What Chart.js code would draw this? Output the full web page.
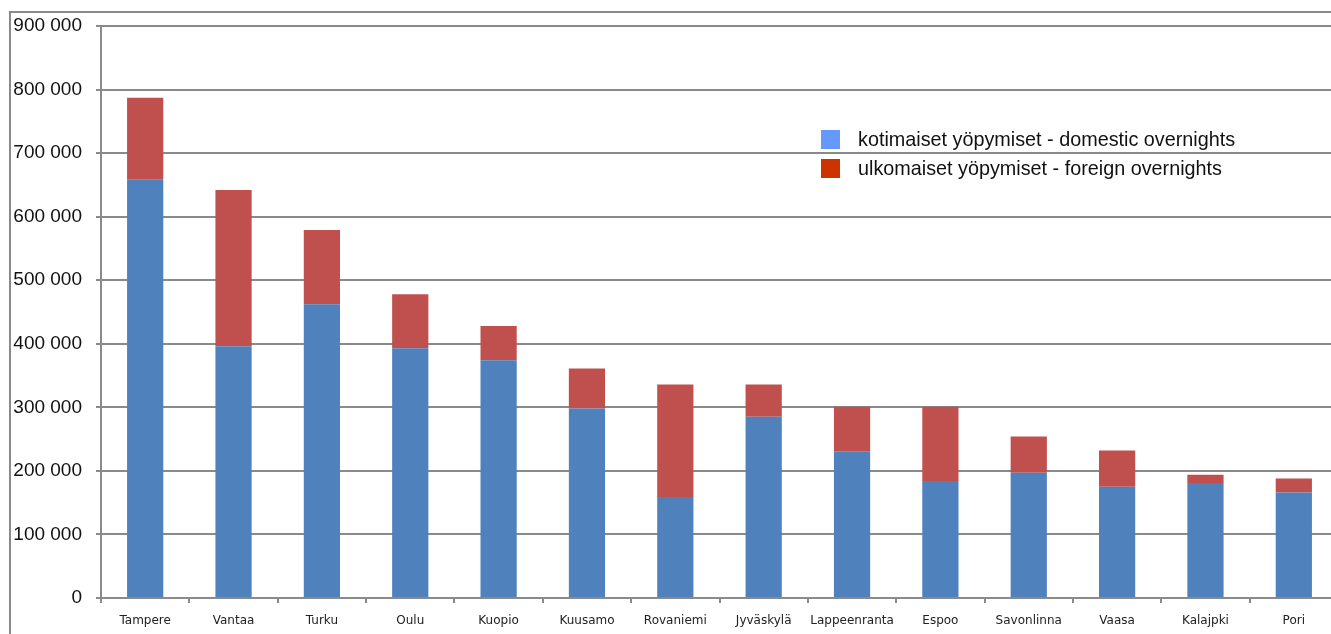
<!DOCTYPE html>
<html>
<head>
<meta charset="utf-8">
<script src="https://cdn.jsdelivr.net/npm/chart.js@4/dist/chart.umd.min.js"></script>
<style>
    html, body { margin: 0; padding: 0; background: #fff; overflow: hidden; }
    #wrap { position: relative; width: 1340px; height: 634px; }
</style>
</head>
<body>
<div id="wrap"><canvas id="overnightChart"></canvas></div>
<script>
const cities = ['Tampere', 'Vantaa', 'Turku', 'Oulu', 'Kuopio', 'Kuusamo', 'Rovaniemi', 'Jyväskylä',
    'Lappeenranta', 'Espoo', 'Savonlinna', 'Vaasa', 'Kalajpki', 'Pori'];
const domestic = [658000, 396000, 462000, 393000, 374000, 298000, 159000, 285000, 231000, 184000, 197000, 175000, 181000, 166000];
const foreign = [129000, 246000, 117000, 85000, 54000, 63000, 177000, 51000, 70000, 117000, 57000, 57000, 13000, 22000];
const seriesNames = ['kotimaiset yöpymiset - domestic overnights', 'ulkomaiset yöpymiset - foreign overnights'];
const barColors = ['#4f81bd', '#c0504d'];
const legendColors = ['#6699ff', '#cc3300'];
const yTicks = [0, 100000, 200000, 300000, 400000, 500000, 600000, 700000, 800000, 900000];

function formatNumber(v) {
    return String(v).replace(/\B(?=(\d{3})+(?!\d))/g, ' ');
}

// outer frame + legend inside the plot, like the original sheet
const framePlugin = {
    id: 'frame',
    afterDraw(chart) {
        const ctx = chart.ctx;
        ctx.save();
        ctx.strokeStyle = '#8a8a8a';
        ctx.lineWidth = 2;
        ctx.beginPath();
        ctx.moveTo(10, 634);
        ctx.lineTo(10, 12);
        ctx.lineTo(chart.width, 12);
        ctx.stroke();

        ctx.font = '19.8px "Liberation Sans", Arial, sans-serif';
        ctx.textBaseline = 'middle';
        seriesNames.forEach((name, i) => {
            const y = 130 + i * 29;
            ctx.fillStyle = legendColors[i];
            ctx.fillRect(821, y, 19, 19);
            ctx.fillStyle = '#111';
            ctx.fillText(name, 858, y + 11);
        });
        ctx.restore();
    }
};

const ctx = document.getElementById('overnightChart').getContext('2d');
new Chart(ctx, {
    type: 'bar',
    data: {
        labels: cities,
        datasets: [
            { label: seriesNames[0], data: domestic, backgroundColor: barColors[0], borderWidth: 0 },
            { label: seriesNames[1], data: foreign, backgroundColor: barColors[1], borderWidth: 0 }
        ]
    },
    options: {
        responsive: true,
        maintainAspectRatio: false,
        animation: false,
        devicePixelRatio: 1,
        categoryPercentage: 1,
        barPercentage: 0.41,
        layout: { padding: { top: 26, right: 2, left: 0, bottom: 0 } },
        plugins: {
            legend: { display: false },
            tooltip: { enabled: false }
        },
        scales: {
            x: {
                stacked: true,
                afterFit: axis => { axis.height = 36; },
                grid: { drawOnChartArea: false, offset: true, tickLength: 5, color: '#8a8a8a', lineWidth: 2 },
                border: { display: true, color: '#8a8a8a', width: 2 },
                ticks: {
                    padding: 11,
                    maxRotation: 0,
                    autoSkip: false,
                    color: '#222',
                    font: { family: '"DejaVu Sans", sans-serif', size: 12 }
                }
            },
            y: {
                stacked: true,
                min: 0,
                max: 900000,
                afterFit: axis => { axis.width = 101; },
                afterBuildTicks: axis => { axis.ticks = yTicks.map(v => ({ value: v })); },
                grid: { color: '#8a8a8a', lineWidth: 2, tickLength: 5 },
                border: { display: true, color: '#8a8a8a', width: 2 },
                ticks: {
                    padding: 14,
                    color: '#111',
                    font: { family: '"Liberation Sans", Arial, sans-serif', size: 19 },
                    callback: v => formatNumber(v)
                }
            }
        }
    },
    plugins: [framePlugin]
});
</script>
</body>
</html>
